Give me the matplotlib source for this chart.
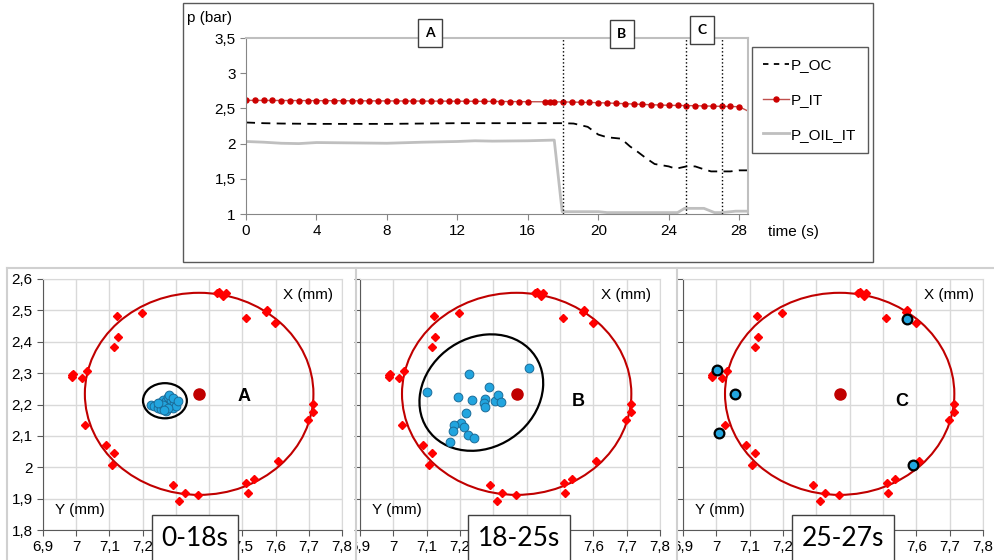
"""
Pressure history (top) and shaft orbit scatter for three time windows (bottom).
"""

import matplotlib
matplotlib.use('Agg')
import matplotlib.pyplot as plt
from matplotlib.patches import Ellipse, Rectangle
from matplotlib.lines import Line2D
from matplotlib.ticker import FuncFormatter
from matplotlib.transforms import Bbox, TransformedBbox

W, H = 995, 560
plt.rcParams['font.family'] = ['Liberation Sans', 'DejaVu Sans']

# ---- top chart data ----
t_oc = [0, 1, 2, 4, 6, 8, 10, 12, 14, 16, 18, 18.6, 19.4, 20, 20.5, 21.3, 21.8,
        22.2, 22.7, 23.2, 24, 24.4, 25, 25.5, 25.9, 26.4, 27, 27.5, 28, 28.5]
p_oc = [2.30, 2.29, 2.285, 2.28, 2.28, 2.28, 2.285, 2.29, 2.29, 2.29, 2.29, 2.285,
        2.238, 2.128, 2.09, 2.07, 1.96, 1.89, 1.795, 1.71, 1.676, 1.643, 1.676,
        1.676, 1.643, 1.605, 1.605, 1.605, 1.62, 1.62]

t_it = [0, 0.5, 1, 1.5, 2, 2.5, 3, 3.5, 4, 4.5, 5, 5.5, 6, 6.5, 7, 7.5, 8, 8.5,
        9, 9.5, 10, 10.5, 11, 11.5, 12, 12.5, 13, 13.5, 14, 14.5, 15, 15.5, 16,
        17, 17.25, 17.5, 18, 18.5, 19, 19.5, 20, 20.5, 21, 21.5, 22, 22.5, 23,
        23.5, 24, 24.5, 25, 25.5, 26, 26.5, 27, 27.5, 28, 28.5]
p_it = [2.614, 2.614, 2.613, 2.613, 2.612, 2.612, 2.611, 2.611, 2.610, 2.610,
        2.609, 2.609, 2.608, 2.608, 2.607, 2.607, 2.606, 2.606, 2.605, 2.605,
        2.604, 2.604, 2.603, 2.603, 2.602, 2.602, 2.601, 2.600, 2.599, 2.598,
        2.597, 2.596, 2.595, 2.594, 2.594, 2.593, 2.592, 2.590, 2.587, 2.584,
        2.581, 2.577, 2.572, 2.567, 2.562, 2.557, 2.552, 2.548, 2.544, 2.542,
        2.540, 2.538, 2.535, 2.532, 2.529, 2.527, 2.524, 2.462]

t_oil = [0, 1, 2, 3, 4, 6, 8, 10, 12, 13, 14, 16, 17.5, 17.95, 20, 20.5, 24.5,
         24.9, 26, 26.6, 27, 27.8, 28.5]
p_oil = [2.03, 2.02, 2.005, 2.0, 2.015, 2.01, 2.005, 2.02, 2.03, 2.04, 2.035,
         2.04, 2.05, 1.033, 1.033, 1.02, 1.02, 1.08, 1.08, 1.02, 1.02, 1.04, 1.04]

phase_lines = [18, 25, 27]
phase_names = ['A', 'B', 'C']
phase_box_px = [(430, 33), (622, 34), (702, 30)]

# ---- orbit data (Y horizontal, X vertical, mm) ----
ring_y = [7.425, 7.43, 7.442, 7.45, 7.573, 7.57, 7.51, 7.598, 7.122, 7.198,
          7.125, 7.115, 6.988, 6.988, 6.99, 7.016, 7.032, 7.026, 7.09, 7.115,
          7.107, 7.29, 7.327, 7.31, 7.368, 7.512, 7.535, 7.516, 7.608, 7.698,
          7.712, 7.713]
ring_x = [2.555, 2.557, 2.546, 2.554, 2.502, 2.495, 2.475, 2.461, 2.481, 2.491,
          2.416, 2.384, 2.293, 2.288, 2.297, 2.285, 2.306, 2.136, 2.071, 2.047,
          2.008, 1.944, 1.917, 1.893, 1.912, 1.949, 1.962, 1.917, 2.020, 2.150,
          2.202, 2.175]
ring_center = (7.37, 2.234)
ring_size = (0.688, 0.644)

a_y = [7.225, 7.235, 7.245, 7.25, 7.255, 7.26, 7.265, 7.27, 7.275, 7.28, 7.285,
       7.29, 7.295, 7.30, 7.27, 7.26, 7.28, 7.29, 7.245, 7.275, 7.305, 7.265]
a_x = [2.200, 2.195, 2.190, 2.205, 2.185, 2.215, 2.195, 2.210, 2.225, 2.200,
       2.215, 2.190, 2.205, 2.195, 2.180, 2.200, 2.230, 2.220, 2.205, 2.190,
       2.210, 2.182]

b_y = [7.408, 7.101, 7.226, 7.193, 7.235, 7.286, 7.276, 7.272, 7.274, 7.304,
       7.314, 7.324, 7.217, 7.203, 7.183, 7.213, 7.179, 7.223, 7.241, 7.170]
b_x = [2.317, 2.240, 2.297, 2.223, 2.215, 2.256, 2.216, 2.205, 2.193, 2.210,
       2.229, 2.208, 2.173, 2.142, 2.134, 2.128, 2.114, 2.102, 2.092, 2.082]

c_y = [7.003, 7.055, 7.007, 7.573, 7.590]
c_x = [2.310, 2.235, 2.109, 2.474, 2.008]

panel_letters = ['A', 'B', 'C']
panel_windows = ['0-18s', '18-25s', '25-27s']
# black spread ellipse per window: (center, width, height, angle)
spread = [((7.267, 2.212), 0.132, 0.112, 0), ((7.264, 2.238), 0.40, 0.34, 45), None]

orbit_ticks_y = [6.9, 7.0, 7.1, 7.2, 7.3, 7.4, 7.5, 7.6, 7.7, 7.8]
orbit_ticks_x = [1.8, 1.9, 2.0, 2.1, 2.2, 2.3, 2.4, 2.5, 2.6]


def fx(px):
    return px / W


def fy(py):
    return 1 - py / H


comma = FuncFormatter(lambda v, pos: f'{v:g}'.replace('.', ','))

fig = plt.figure(figsize=(W / 100, H / 100), dpi=100)

# ---------------- top chart ----------------
fig.add_artist(Rectangle((fx(183), fy(262)), fx(873) - fx(183), fy(3) - fy(262),
                         transform=fig.transFigure, fill=False,
                         edgecolor='#595959', linewidth=1))

ax = fig.add_axes([fx(246), fy(214), fx(748) - fx(246), fy(38) - fy(214)])
ax.plot(t_oc, p_oc, color='black', linestyle=(0, (5, 3.5)), linewidth=1.3,
        label='P_OC')
ax.plot(t_it, p_it, color='#c0504d', linewidth=1, marker='o', markersize=3.6,
        markerfacecolor='#cc0000', markeredgecolor='#cc0000',
        markevery=list(range(len(t_it) - 1)), label='P_IT')
ax.plot(t_oil, p_oil, color='#bfbfbf', linewidth=2, label='P_OIL_IT')
for t in phase_lines:
    ax.axvline(t, color='black', linestyle=':', linewidth=1)

ax.set_xlim(0, 28.5)
ax.set_ylim(1, 3.5)
ax.set_xticks([0, 4, 8, 12, 16, 20, 24, 28])
ax.set_yticks([1, 1.5, 2, 2.5, 3, 3.5])
ax.yaxis.set_major_formatter(comma)
ax.tick_params(labelsize=11, length=4, color='#868686', direction='out')
for s in ['left', 'bottom']:
    ax.spines[s].set_color('#868686')
for s in ['top', 'right']:
    ax.spines[s].set_color('#bfbfbf')
    ax.spines[s].set_linewidth(1.5)

fig.text(fx(210), fy(18), 'p (bar)', ha='center', va='center', fontsize=11)
fig.text(fx(793), fy(232), 'time (s)', ha='center', va='center', fontsize=11)

for name, (px, py) in zip(phase_names, phase_box_px):
    fig.text(fx(px), fy(py), name, ha='center', va='center', fontsize=10,
             fontweight='bold', family=['Lato', 'DejaVu Sans'],
             bbox=dict(boxstyle='square,pad=0.55', facecolor='white',
                       edgecolor='#404040', linewidth=1))

handles = [Line2D([], [], color='black', linestyle=(0, (3, 3)), linewidth=1.3),
           Line2D([], [], color='#c0504d', linewidth=1, marker='o', markersize=3.6,
                  markerfacecolor='#cc0000', markeredgecolor='#cc0000'),
           Line2D([], [], color='#bfbfbf', linewidth=2)]
leg = fig.legend(handles, ['P_OC', 'P_IT', 'P_OIL_IT'], loc='upper left',
                 bbox_to_anchor=(fx(752), fy(47)), fontsize=11,
                 labelspacing=1.35, handlelength=1.7, handletextpad=0.1,
                 borderpad=0.75, borderaxespad=0, fancybox=False, framealpha=1)
leg.get_frame().set_edgecolor('#595959')
leg.get_frame().set_linewidth(1)

# ---------------- orbit panels ----------------
fig.add_artist(Line2D([fx(7), 1], [fy(268), fy(268)], transform=fig.transFigure,
                      color='#d0d0d0', linewidth=1.5))
for sx in [7, 356, 677]:
    fig.add_artist(Line2D([fx(sx), fx(sx)], [0, fy(268)], transform=fig.transFigure,
                          color='#d0d0d0', linewidth=1.5))

panel_left = [43, 360, 683]
panel_right = [342, 660, 983]
blue_sets = [(a_y, a_x), (b_y, b_x), (c_y, c_x)]
clip_edges = [None, 356, 677]
box_centers = [195, 519, 843]

for i in range(3):
    pax = fig.add_axes([fx(panel_left[i]), fy(530), fx(panel_right[i]) - fx(panel_left[i]),
                        fy(279) - fy(530)])
    pax.set_xlim(6.9, 7.8)
    pax.set_ylim(1.8, 2.6)
    pax.set_xticks(orbit_ticks_y)
    pax.set_yticks(orbit_ticks_x)
    pax.xaxis.set_major_formatter(comma)
    pax.yaxis.set_major_formatter(comma)
    pax.grid(True, color='#d9d9d9', linewidth=1)
    pax.set_axisbelow(True)
    pax.tick_params(labelsize=11, length=4, color='#595959', direction='out')
    if i > 0:
        pax.tick_params(labelleft=False)
    for s in ['left', 'bottom']:
        pax.spines[s].set_color('#595959')
    for s in ['top', 'right']:
        pax.spines[s].set_color('#d9d9d9')

    pax.add_patch(Ellipse(ring_center, ring_size[0], ring_size[1], fill=False,
                          edgecolor='#c00000', linewidth=1.5, zorder=2))
    pax.plot(ring_y, ring_x, linestyle='none', marker='D', markersize=3.6,
             color='#ff0000', zorder=3)
    pax.plot([ring_center[0]], [ring_center[1]], linestyle='none', marker='o',
             markersize=8, color='#c00000', zorder=4)

    if spread[i] is not None:
        c, w, h, ang = spread[i]
        pax.add_patch(Ellipse(c, w, h, angle=ang, fill=False, edgecolor='black',
                              linewidth=1.6, zorder=5))

    by, bx = blue_sets[i]
    if i < 2:
        pax.plot(by, bx, linestyle='none', marker='o', markersize=6.3,
                 markerfacecolor='#22a5df', markeredgecolor='#1b6c99',
                 markeredgewidth=0.7, zorder=6)
    else:
        pax.plot(by, bx, linestyle='none', marker='o', markersize=7,
                 markerfacecolor='#22a5df', markeredgecolor='black',
                 markeredgewidth=1.6, zorder=6)

    pax.text(7.505 if i == 0 else 7.555, 2.225 if i == 0 else 2.21, panel_letters[i],
             ha='center', va='center', fontsize=13, fontweight='bold')
    pax.text(7.772, 2.55, 'X (mm)', ha='right', va='center', fontsize=11)
    pax.text(6.936, 1.865, 'Y (mm)', ha='left', va='center', fontsize=11)

    if clip_edges[i] is not None:
        clip = TransformedBbox(Bbox([[fx(clip_edges[i]) + 0.001, 0], [1, 1]]),
                               fig.transFigure)
        lab = pax.xaxis.get_major_ticks()[0].label1
        lab.set_clip_box(clip)
        lab.set_clip_on(True)

    fig.text(fx(box_centers[i]), fy(538), panel_windows[i], ha='center', va='center',
             fontsize=19, family=['Lato', 'DejaVu Sans'],
             bbox=dict(boxstyle='square,pad=0.38', facecolor='white',
                       edgecolor='#404040', linewidth=1), zorder=10)

fig.savefig('out.png', dpi=100)
